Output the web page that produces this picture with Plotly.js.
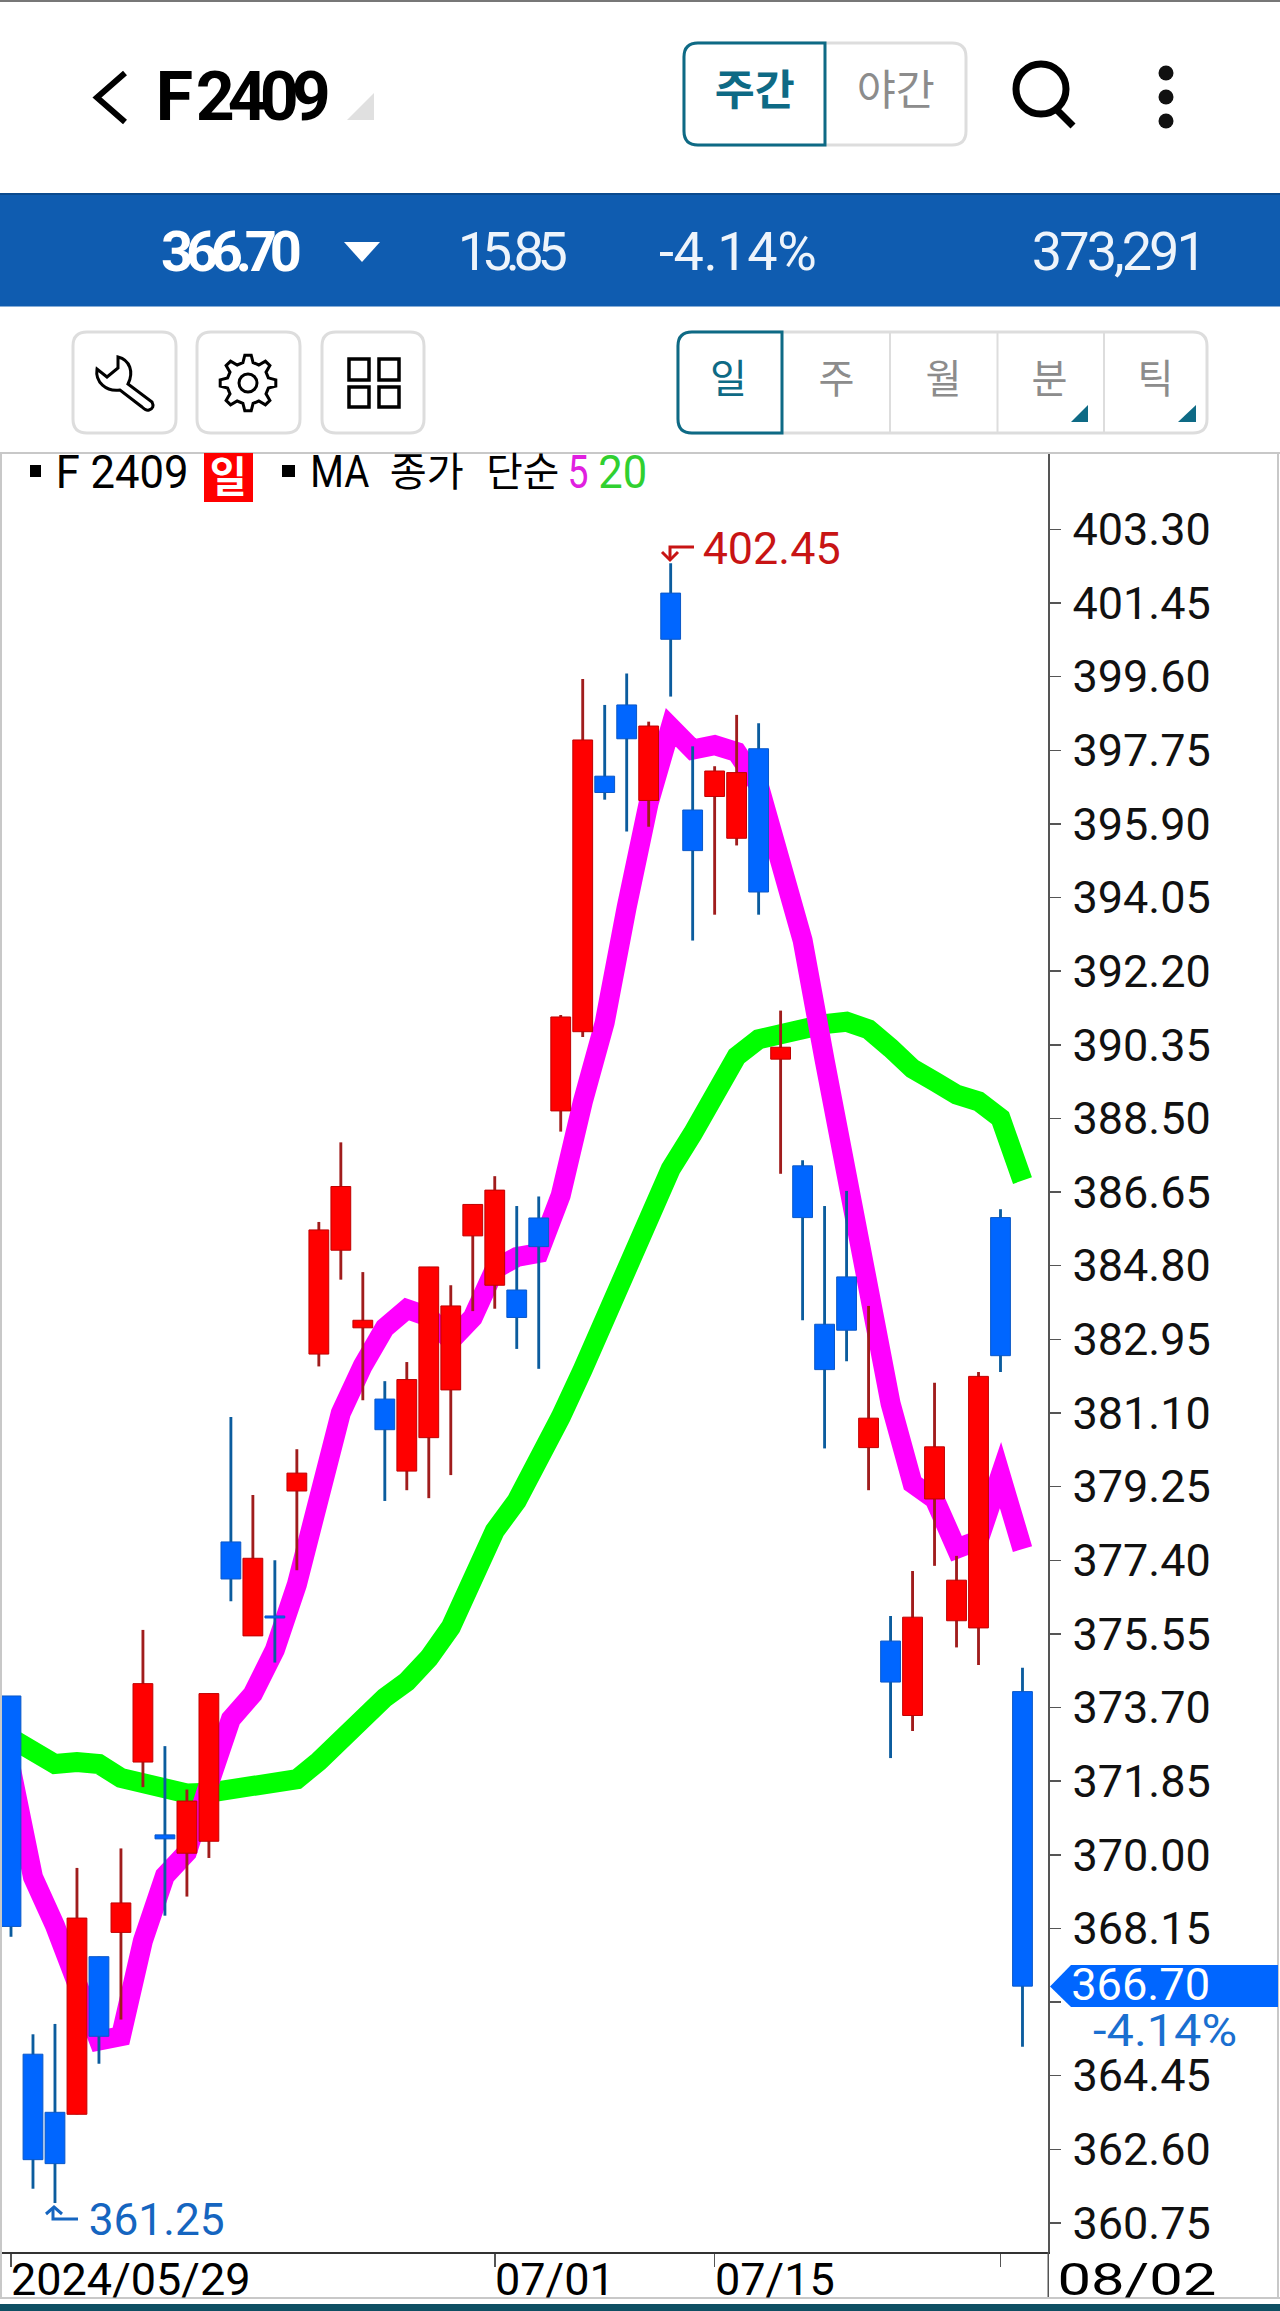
<!DOCTYPE html>
<html><head><meta charset="utf-8">
<script src="https://cdn.plot.ly/plotly-3.0.1.min.js"></script>
<style>
html,body{margin:0;padding:0;background:#fff;overflow:hidden}
#chart{width:1280px;height:2311px}
.scatterlayer .js-line{stroke-linejoin:miter !important;stroke-linecap:butt !important;stroke-miterlimit:12 !important}
</style></head><body><div id="chart"></div>
<script>
const W = 1280, H = 2311;
const openPrices = [373.99,364.99,363.53,363.48,367.44,368.05,372.33,370.50,370.04,370.34,377.86,375.50,376.00,379.14,382.58,385.19,383.24,381.45,379.64,380.48,381.68,385.55,384.31,384.19,386.00,388.69,390.68,397.10,398.89,396.49,401.70,396.25,396.59,395.54,397.79,389.99,387.31,383.33,384.52,380.23,375.37,373.50,378.94,375.88,375.70,386.01,374.10];
const closePrices = [368.20,362.34,362.24,368.41,365.44,368.79,374.30,370.40,371.35,374.05,376.93,377.45,375.95,379.59,385.70,386.79,383.43,380.68,381.94,384.77,383.79,386.34,386.70,383.50,385.28,391.05,398.01,396.69,398.04,398.36,400.54,395.23,397.23,397.19,394.19,390.29,386.01,382.19,383.18,380.97,374.34,375.97,380.25,376.90,382.02,382.54,366.70];
const highPrices = [373.99,365.49,365.75,369.67,367.44,370.16,375.65,372.73,371.64,374.05,381.00,379.04,377.40,380.19,385.90,387.90,384.64,381.90,382.38,384.77,384.31,386.34,387.05,386.30,386.54,391.10,399.54,398.89,399.68,398.47,402.45,397.85,397.35,398.64,398.43,391.21,387.45,386.30,386.68,383.79,376.00,377.13,381.86,377.51,382.13,386.22,374.70];
const lowPrices = [367.94,361.61,361.25,363.48,364.75,365.86,371.70,368.47,368.95,369.92,376.37,375.50,374.83,377.15,382.27,384.45,381.42,378.89,379.16,378.96,379.54,383.66,383.72,382.71,382.21,388.17,390.55,396.51,395.71,395.83,399.10,392.97,393.62,395.36,393.62,387.11,383.43,380.21,382.40,379.16,372.43,373.11,377.26,375.21,374.77,382.13,365.18];
const ma5 = [372.15,369.44,368.22,366.71,365.33,365.44,367.84,369.47,370.06,371.78,373.41,374.04,375.15,376.79,379.12,381.10,382.29,383.24,383.71,383.52,382.92,383.50,384.71,385.02,385.12,386.57,388.91,390.91,393.81,396.43,398.33,397.77,397.88,397.71,396.88,394.83,392.98,389.97,387.17,384.53,381.34,379.33,378.94,377.69,377.90,379.54,377.68];
const ma20 = [372.93,372.58,372.28,372.33,372.28,371.93,371.78,371.64,371.54,371.56,371.64,371.64,371.75,371.90,372.35,372.92,373.38,373.95,374.35,374.94,375.72,376.92,378.14,378.89,379.89,381.00,382.19,383.50,384.83,386.05,387.23,388.12,389.18,390.06,390.49,390.66,390.79,390.87,390.93,390.74,390.27,389.75,389.43,389.10,388.93,388.51,386.94];
const yTickValues = [360.75,362.60,364.45,366.30,368.15,370.00,371.85,373.70,375.55,377.40,379.25,381.10,382.95,384.80,386.65,388.50,390.35,392.20,394.05,395.90,397.75,399.60,401.45,403.30];
const yTickLabels = ['360.75','362.60','364.45','','368.15','370.00','371.85','373.70','375.55','377.40','379.25','381.10','382.95','384.80','386.65','388.50','390.35','392.20','394.05','395.90','397.75','399.60','401.45','403.30'];
const xTickIndex = [0,22,32,45];
const xTickLabels = ['2024/05/29','07/01','07/15',''];
const xIdx = openPrices.map((_, i) => i);

const RED='#ff0000', BLUE='#0066ff', WRED='#a01c1c', WBLUE='#0b5c9e', TEAL='#0e6a85', GRAY='#8c8c8c', BORDER='#dddddd';
const FONT = "Roboto, 'Noto Sans CJK KR', sans-serif";
const X0=0, X1=1048, Y0=453, Y1=2252;

const px = x => x / W, py = y => 1 - y / H;
function P(s){ let k=0; return s.replace(/-?\d+(\.\d+)?/g, m => { const v=parseFloat(m); const r = (k++%2===0)?px(v):py(v); return r.toFixed(6); }); }
const shapes = [], annotations = [], stretch = {};
function rect(x0,y0,x1,y1,fill,line,lw){ shapes.push({type:'rect',xref:'paper',yref:'paper',x0:px(x0),x1:px(x1),y0:py(y1),y1:py(y0),fillcolor:fill||'rgba(0,0,0,0)',line:{color:line||'rgba(0,0,0,0)',width:lw||0}}); }
function path(s,fill,line,lw){ shapes.push({type:'path',xref:'paper',yref:'paper',path:P(s),fillcolor:fill||'rgba(0,0,0,0)',line:{color:line||'rgba(0,0,0,0)',width:lw||0}}); }
function circle(cx,cy,r,fill,line,lw){ shapes.push({type:'circle',xref:'paper',yref:'paper',x0:px(cx-r),x1:px(cx+r),y0:py(cy+r),y1:py(cy-r),fillcolor:fill||'rgba(0,0,0,0)',line:{color:line||'rgba(0,0,0,0)',width:lw||0}}); }
function rr(x0,y0,x1,y1,r){ return `M ${x0+r} ${y0} L ${x1-r} ${y0} Q ${x1} ${y0} ${x1} ${y0+r} L ${x1} ${y1-r} Q ${x1} ${y1} ${x1-r} ${y1} L ${x0+r} ${y1} Q ${x0} ${y1} ${x0} ${y1-r} L ${x0} ${y0+r} Q ${x0} ${y0} ${x0+r} ${y0} Z`; }
function rl(x0,y0,x1,y1,r){ return `M ${x0+r} ${y0} L ${x1} ${y0} L ${x1} ${y1} L ${x0+r} ${y1} Q ${x0} ${y1} ${x0} ${y1-r} L ${x0} ${y0+r} Q ${x0} ${y0} ${x0+r} ${y0} Z`; }
function txt(t,left,right,cy,size,color,bold,tight){
  stretch[annotations.length] = {w:right-left,mode:tight?'spacing':'spacingAndGlyphs'};
  annotations.push({text:t,xref:'paper',yref:'paper',x:px((left+right)/2),y:py(cy),xanchor:'center',yanchor:'middle',showarrow:false,borderpad:0,
    font:{family:FONT,size:size,color:color,weight:bold?700:400}});
}

// top chrome
rect(0,0,1280,2,'#777777');
path('M 125 73 L 97 97.5 L 125 122',null,'#000000',6);
txt('F 2409',155,330,97,68,'#000000',true,true);
path('M 347 120 L 374 120 L 374 93 Z','#e0e0e0');
path(rr(684,43,966,145,14),'#ffffff',BORDER,3);
path(rl(684,43,825,145,14),'#ffffff',TEAL,3);
txt('주간',714,794,91,42,TEAL,true);
txt('야간',856,934,91,42,GRAY,false);
circle(1041,89,25,null,'#000000',7);
path('M 1055 108 L 1073 126',null,'#000000',7);
circle(1166,73,7.5,'#111111'); circle(1166,97,7.5,'#111111'); circle(1166,121,7.5,'#111111');

// price strip
rect(0,193.5,1280,306.5,'#0f5cb0');
rect(0,193,1280,195,'#0b4a8e');
txt('366.70',161,302,252,56,'#ffffff',true,true);
path('M 344 242 L 380 242 L 362 262 Z','#ffffff');
txt('15.85',458,568,252,54,'#eef4fb',false,true);
txt('-4.14%',659,817,252,54,'#eef4fb',false,true);
txt('373,291',1032,1207,252,54,'#eef4fb',false,true);

// toolbar
[[73,176],[197,300],[322,424]].forEach(b=>path(rr(b[0],332,b[1],433,14),'#ffffff',BORDER,3));
path('M 118 357 C 130 360 134 372 128 384 L 152 402 Q 155 408 149 410 Q 146 411 142 407 L 120 390 C 106 392 95 382 97 369 L 107 377 L 118 368 Z',null,'#000000',3);
(function(){ const cx=248, cy=383, R=28, r=21; let s=''; const n=8;
  for(let i=0;i<n;i++){ const a=i*2*Math.PI/n, w=Math.PI/n*0.42;
    const pts=[[r,a-w*1.5],[R,a-w*0.7],[R,a+w*0.7],[r,a+w*1.5]];
    pts.forEach((q,j)=>{ s+=((i===0&&j===0)?'M ':'L ')+(cx+q[0]*Math.cos(q[1])).toFixed(1)+' '+(cy+q[0]*Math.sin(q[1])).toFixed(1)+' '; }); }
  path(s+'Z',null,'#000000',3); circle(cx,cy,9,null,'#000000',3); })();
rect(349,359,369,380,null,'#000000',3.5); rect(379,359,399,380,null,'#000000',3.5);
rect(349,387,369,407,null,'#000000',3.5); rect(379,387,399,407,null,'#000000',3.5);
path(rr(678,332,1207,433,14),'#ffffff',BORDER,3);
rect(890,332,890,433,null,BORDER,2); rect(997.5,332,997.5,433,null,BORDER,2); rect(1104,332,1104,433,null,BORDER,2);
path(rl(678,332,782,433,14),'#ffffff',TEAL,3);
txt('일',710,747,380,40,TEAL,false);
txt('주',818,854,380,40,GRAY,false);
txt('월',925,961,380,40,GRAY,false);
txt('분',1031,1067,380,40,GRAY,false);
txt('틱',1137,1173,380,40,GRAY,false);
path('M 1071 422 L 1088 422 L 1088 405 Z',TEAL);
path('M 1178 422 L 1196 422 L 1196 405 Z',TEAL);

// chart frame
rect(0,452,1280,454,'#c8c8c8');
rect(0,453,2,2298,'#c8c8c8');
rect(1277,453,1279,2298,'#c8c8c8');
rect(1047.5,2252,1049,2298,'#555555');
rect(0,2297,1280,2299,'#c8c8c8');
rect(0,2304,1280,2311,'#0e4f63');

// legend
rect(30,465,41,477,'#000000');
txt('F 2409',55,188,472,46,'#000000',false);
rect(204,453,253,502,'#ff0000');
txt('일',210,247,477,42,'#ffffff',true);
rect(282,465,295,477,'#000000');
txt('MA',310,369,472,44,'#000000',false);
txt('종가',390,464,472,40,'#000000',false);
txt('단순',486,559,472,40,'#000000',false);
txt('5',567,588,472,46,'#e020e0',false);
txt('20',598,647,472,46,'#30d030',false);

// high / low markers
txt(String(highPrices[30].toFixed(2)),702,840,548.5,44,'#c81414',false);
path('M 694 547 L 670 547 L 670 558',null,'#c81414',3);
path('M 662 552 L 670 560 L 678 552',null,'#c81414',3);
txt('361.25',88,224,2220,44,'#1565c0',false);
path('M 78 2219 L 53 2219 L 53 2209',null,'#1565c0',3);
path('M 46 2214 L 54 2207 L 62 2214',null,'#1565c0',3);

// last price flag
path('M 1050 1986.5 L 1071 1965 L 1278 1965 L 1278 2007 L 1071 2007 Z','#0066ff');
txt('366.70',1071,1210,1985,44,'#ffffff',false);
txt('-4.14%',1093,1237,2030.5,44,'#1a6fd0',false);

// x axis labels, left aligned on their tick
xTickIndex.forEach((ix,k)=>{ if(!xTickLabels[k]) return;
  annotations.push({text:xTickLabels[k],xref:'x',yref:'paper',x:ix,xshift:-1,y:py(2279),xanchor:'left',yanchor:'middle',showarrow:false,borderpad:0,font:{family:FONT,size:45,color:'#000'}});
});
txt('08/02',1057,1216,2279,45,'#000000',false);

const traces = [
  {type:'scatter',mode:'lines',x:xIdx,y:ma20,line:{color:'#00ff00',width:20,shape:'linear'},hoverinfo:'skip',showlegend:false},
  {type:'scatter',mode:'lines',x:xIdx,y:ma5,line:{color:'#ff00ff',width:20,shape:'linear'},hoverinfo:'skip',showlegend:false},
  {type:'bar',xaxis:'x2',yaxis:'y2',x:xIdx,base:lowPrices,y:highPrices.map((h,i)=>h-lowPrices[i]),width:0.13,
   marker:{color:closePrices.map((c,i)=>c>=openPrices[i]?WRED:WBLUE),line:{width:0}},hoverinfo:'skip',showlegend:false},
  {type:'bar',xaxis:'x2',yaxis:'y2',x:xIdx,base:closePrices.map((c,i)=>Math.min(c,openPrices[i])),y:closePrices.map((c,i)=>Math.abs(c-openPrices[i])),width:0.9,
   marker:{color:closePrices.map((c,i)=>c>=openPrices[i]?RED:BLUE),line:{width:1,color:closePrices.map((c,i)=>c>=openPrices[i]?'#c00000':'#0a58c8')}},hoverinfo:'skip',showlegend:false}
];
const xRange=[-0.5,47.16], yRange=[360.02,405.22];
const xDomain=[px(X0),px(X1)], yDomain=[py(Y1),py(Y0)];
const layout = {
  width:W,height:H,margin:{l:0,r:0,t:0,b:0},paper_bgcolor:'#ffffff',plot_bgcolor:'#ffffff',
  barmode:'overlay',showlegend:false,font:{family:FONT},
  xaxis:{domain:xDomain,range:xRange,type:'linear',tickmode:'array',tickvals:xTickIndex,ticktext:xTickIndex.map(()=>''),ticks:'outside',ticklen:13,tickwidth:1.5,tickcolor:'#555',showgrid:false,zeroline:false,showline:true,linecolor:'#333',linewidth:1.5,fixedrange:true,anchor:'y'},
  yaxis:{domain:yDomain,range:yRange,side:'right',anchor:'x',tickmode:'array',tickvals:yTickValues,ticktext:yTickLabels,ticks:'outside',ticklen:11,tickwidth:1.5,tickcolor:'#555',showgrid:false,zeroline:false,showline:true,linecolor:'#555',linewidth:1.5,ticklabelstandoff:3,tickfont:{family:FONT,size:45,color:'#111'},fixedrange:true},
  xaxis2:{domain:xDomain,range:xRange,overlaying:'x',visible:false,anchor:'y2',fixedrange:true},
  yaxis2:{domain:yDomain,range:yRange,overlaying:'y',visible:false,anchor:'x2',fixedrange:true},
  shapes,annotations
};
Plotly.newPlot('chart',traces,layout,{displayModeBar:false,staticPlot:true}).then(()=>{
  Object.keys(stretch).forEach(i=>{
    const t=document.querySelector(`.annotation[data-index="${i}"] text`);
    if(t){ t.setAttribute('textLength',stretch[i].w); t.setAttribute('lengthAdjust',stretch[i].mode); }
  });
});
</script></body></html>
